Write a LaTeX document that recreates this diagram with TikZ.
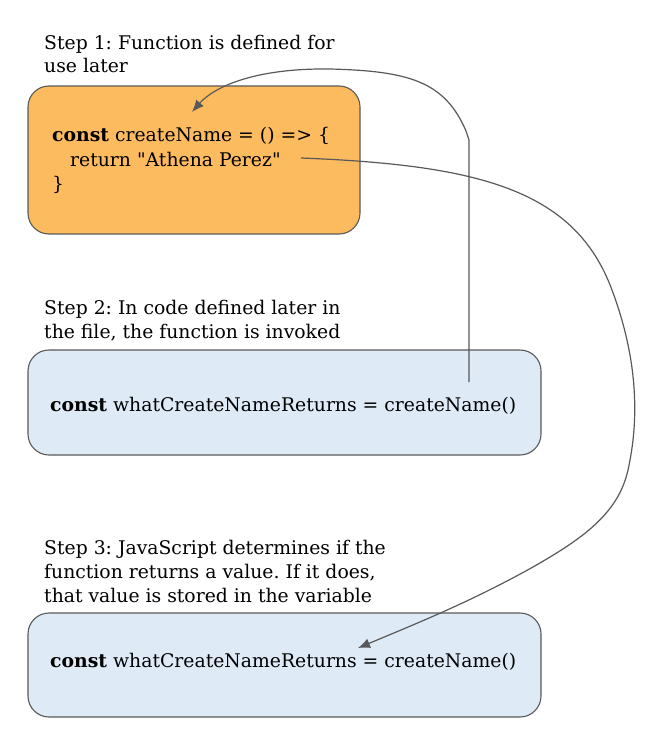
\documentclass[tikz,border=0pt]{standalone}
\usepackage{fontspec}
\setmainfont{DejaVu Serif}[Ligatures=TeXOff]
\usetikzlibrary{arrows.meta}
\definecolor{orangefill}{RGB}{253,187,96}
\definecolor{bluefill}{RGB}{222,234,246}
\definecolor{edgegray}{RGB}{89,89,89}
\tikzset{
  box/.style={draw=edgegray, line width=1.1pt, rounded corners=21pt, inner sep=0pt},
  label/.style={anchor=base west, inner sep=0pt, align=left, font=\fontsize{18.8}{23.7}\selectfont\frenchspacing, text=black},
  code/.style={anchor=base west, inner sep=0pt, align=left, font=\fontsize{18.8}{24}\selectfont\frenchspacing, text=black},
  conn/.style={draw=edgegray, line width=1.2pt},
  tip/.style={-{Latex[length=12pt,width=10pt]}}
}
\begin{document}
\begin{tikzpicture}[x=1pt,y=-1pt]
\useasboundingbox (0,0) rectangle (669,749);
\node[box, fill=orangefill, minimum width=332pt, minimum height=148pt] (b1) at (194,160) {};
\node[box, fill=bluefill, minimum width=513pt, minimum height=105pt] (b2) at (284.5,402.5) {};
\node[box, fill=bluefill, minimum width=513pt, minimum height=104pt] (b3) at (284.5,665) {};

\node[label] (s1) at (44,73) {Step 1: Function is defined for\\use later};
\node[label] (s2) at (44,338) {Step 2: In code defined later in\\the file, the function is invoked};
\node[label] (s3) at (44,602) {Step 3: JavaScript determines if the\\function returns a value. If it does,\\that value is stored in the variable};

\node[code] (c1) at (52,142) {\textbf{const} createName = () => \{};
\node[code] (c2) at (70,166) {return \char34 Athena Perez\char34};
\node[code] (c3) at (52,190) {\}};
\node[code] (c4) at (50,411) {\textbf{const} whatCreateNameReturns = createName()};
\node[code] (c5) at (50,667) {\textbf{const} whatCreateNameReturns = createName()};

\coordinate (callpt) at (469,382);
\coordinate (defpt) at (192,112);
\coordinate (retpt) at (301,158);
\coordinate (storept) at (358,648);

\draw[conn, tip] (callpt) -- (469,140) -- (466,131)
  .. controls (445,82) and (410,71) .. (330,69)
  .. controls (252,68) and (213,88) .. (defpt);
\draw[conn, tip] (retpt) .. controls (480,165) and (575,190) .. (612,290)
  .. controls (640,365) and (638,425) .. (628,470)
  .. controls (618,515) and (580,540) .. (533,567)
  .. controls (470,602) and (420,622) .. (storept);
\end{tikzpicture}
\end{document}
